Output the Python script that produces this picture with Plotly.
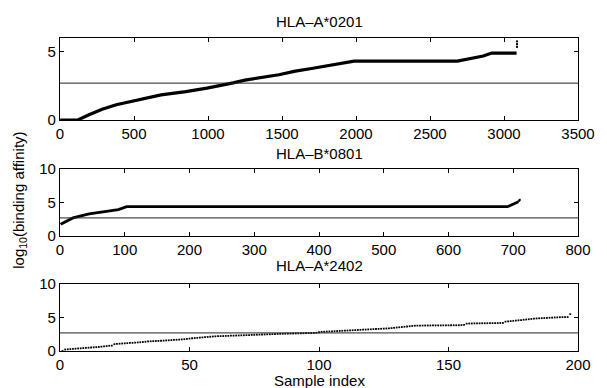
import plotly.graph_objects as go

# ---------------- data ----------------
titles = ["HLA\u2013A*0201", "HLA\u2013B*0801", "HLA\u2013A*2402"]
threshold = 2.699  # log10(500)

# HLA-A*0201 : sorted curve, vertices
a0201_x = [1, 120, 200, 285, 380, 484, 683, 850, 993, 1170, 1250, 1479, 1590, 1700, 1810, 1987, 2685, 2785, 2860, 2917, 3085]
a0201_y = [0.0, 0.0, 0.4, 0.79, 1.12, 1.38, 1.84, 2.08, 2.33, 2.72, 2.92, 3.31, 3.58, 3.77, 3.97, 4.31, 4.31, 4.53, 4.68, 4.9, 4.9]
a0201_tail_x = [3088, 3088, 3088]
a0201_tail_y = [5.35, 5.55, 5.75]

# HLA-B*0801 : sorted curve
b0801_x = [1, 20, 45, 90, 103, 691, 708]
b0801_y = [1.74, 2.7, 3.3, 3.95, 4.37, 4.37, 5.1]
b0801_tail_x = [709, 710]
b0801_tail_y = [5.25, 5.4]

# HLA-A*2402 : individual samples
a2402_y = [
    0.00, 0.22, 0.25, 0.28, 0.32, 0.35, 0.38, 0.40, 0.43, 0.46,
    0.49, 0.52, 0.55, 0.58, 0.61, 0.65, 0.69, 0.73, 0.78, 0.80,
    1.02, 1.06, 1.09, 1.12, 1.14, 1.17, 1.20, 1.22, 1.25, 1.28,
    1.31, 1.34, 1.38, 1.43, 1.45, 1.47, 1.49, 1.51, 1.53, 1.55,
    1.58, 1.60, 1.62, 1.65, 1.68, 1.70, 1.73, 1.76, 1.80, 1.85,
    1.90, 1.93, 1.96, 2.00, 2.03, 2.06, 2.10, 2.13, 2.16, 2.19,
    2.21, 2.22, 2.23, 2.25, 2.26, 2.28, 2.29, 2.31, 2.32, 2.34,
    2.35, 2.37, 2.38, 2.40, 2.41, 2.43, 2.44, 2.46, 2.47, 2.49,
    2.50, 2.52, 2.53, 2.55, 2.56, 2.57, 2.58, 2.59, 2.60, 2.61,
    2.62, 2.63, 2.64, 2.65, 2.66, 2.67, 2.68, 2.70, 2.72, 2.80,
    2.86, 2.88, 2.90, 2.92, 2.94, 2.96, 2.98, 3.00, 3.02, 3.04,
    3.06, 3.08, 3.10, 3.12, 3.14, 3.16, 3.18, 3.20, 3.22, 3.24,
    3.26, 3.28, 3.30, 3.32, 3.34, 3.36, 3.38, 3.42, 3.46, 3.50,
    3.54, 3.58, 3.62, 3.66, 3.70, 3.74, 3.77, 3.79, 3.80, 3.80,
    3.80, 3.81, 3.81, 3.81, 3.82, 3.82, 3.82, 3.83, 3.83, 3.83,
    3.84, 3.84, 3.84, 3.85, 3.86, 3.90, 4.08, 4.10, 4.11, 4.12,
    4.13, 4.13, 4.14, 4.14, 4.15, 4.15, 4.16, 4.16, 4.17, 4.18,
    4.19, 4.38, 4.42, 4.46, 4.50, 4.54, 4.58, 4.62, 4.66, 4.70,
    4.74, 4.78, 4.82, 4.86, 4.88, 4.90, 4.92, 4.94, 4.96, 4.98,
    5.00, 5.02, 5.04, 5.05, 5.06, 5.07, 5.50,
]
a2402_x = list(range(1, len(a2402_y) + 1))

x_ranges = [[0, 3500], [0, 800], [0, 200]]
x_ticks = [[0, 500, 1000, 1500, 2000, 2500, 3000, 3500],
           [0, 100, 200, 300, 400, 500, 600, 700, 800],
           [0, 50, 100, 150, 200]]
y_ranges = [[0, 6], [0, 10], [0, 10]]
y_ticks = [[0, 5], [0, 5, 10], [0, 5, 10]]

# ---------------- layout geometry ----------------
W, H = 607, 388
ML, MR, MT, MB = 60, 19, 38, 37
PH = H - MT - MB


def py(pix):
    """pixel row -> paper y"""
    return (H - MB - pix) / PH


domains = [[py(120), 1.0], [py(236), py(169)], [0.0, py(284)]]
FONT = "Liberation Sans, Arial, Helvetica, sans-serif"

fig = go.Figure()

fig.add_trace(go.Scatter(x=a0201_x, y=a0201_y, mode="lines",
                         line=dict(color="black", width=3.2),
                         xaxis="x", yaxis="y", showlegend=False))
fig.add_trace(go.Scatter(x=a0201_tail_x, y=a0201_tail_y, mode="markers",
                         marker=dict(color="black", size=2, symbol="square"),
                         xaxis="x", yaxis="y", showlegend=False))
fig.add_trace(go.Scatter(x=b0801_x, y=b0801_y, mode="lines",
                         line=dict(color="black", width=2.8),
                         xaxis="x2", yaxis="y2", showlegend=False))
fig.add_trace(go.Scatter(x=b0801_tail_x, y=b0801_tail_y, mode="markers",
                         marker=dict(color="black", size=2, symbol="square"),
                         xaxis="x2", yaxis="y2", showlegend=False))
fig.add_trace(go.Scatter(x=a2402_x, y=a2402_y, mode="markers",
                         marker=dict(color="black", size=1.8, symbol="square"),
                         xaxis="x3", yaxis="y3", showlegend=False))

axis_common = dict(showline=True, linecolor="black", linewidth=1.2, mirror="ticks",
                   ticks="inside", ticklen=4, tickcolor="black", tickwidth=1,
                   showgrid=False, zeroline=False,
                   tickfont=dict(family=FONT, size=15, color="black"))

layout = dict(width=W, height=H, margin=dict(l=ML, r=MR, t=MT, b=MB),
              paper_bgcolor="white", plot_bgcolor="white",
              font=dict(family=FONT, color="black"))

for i in range(3):
    sx = "" if i == 0 else str(i + 1)
    layout["xaxis" + sx] = dict(axis_common, domain=[0, 1], range=x_ranges[i],
                                tickvals=x_ticks[i], anchor="y" + sx)
    layout["yaxis" + sx] = dict(axis_common, domain=domains[i], range=y_ranges[i],
                                tickvals=y_ticks[i], anchor="x" + sx)

fig.update_layout(**layout)

# threshold lines
for i in range(3):
    sx = "" if i == 0 else str(i + 1)
    fig.add_shape(type="line", xref="x" + sx + " domain", yref="y" + sx,
                  x0=0, x1=1, y0=threshold, y1=threshold,
                  line=dict(color="#222222", width=1))

# titles
title_rows = [21, 153, 265]
for t, r in zip(titles, title_rows):
    fig.add_annotation(text=t, xref="paper", yref="paper", x=0.5, y=py(r),
                       showarrow=False, xanchor="center", yanchor="middle",
                       font=dict(family=FONT, size=15, color="black"))

fig.add_annotation(text="Sample index", xref="paper", yref="paper", x=0.5, y=py(380),
                   showarrow=False, xanchor="center", yanchor="middle",
                   font=dict(family=FONT, size=15, color="black"))
fig.add_annotation(text="log<sub>10</sub>(binding affinity)", xref="paper", yref="paper",
                   x=(18 - ML) / (W - ML - MR), y=py(200), textangle=-90,
                   showarrow=False, xanchor="center", yanchor="middle",
                   font=dict(family=FONT, size=15, color="black"))

fig.write_html("out.html")
